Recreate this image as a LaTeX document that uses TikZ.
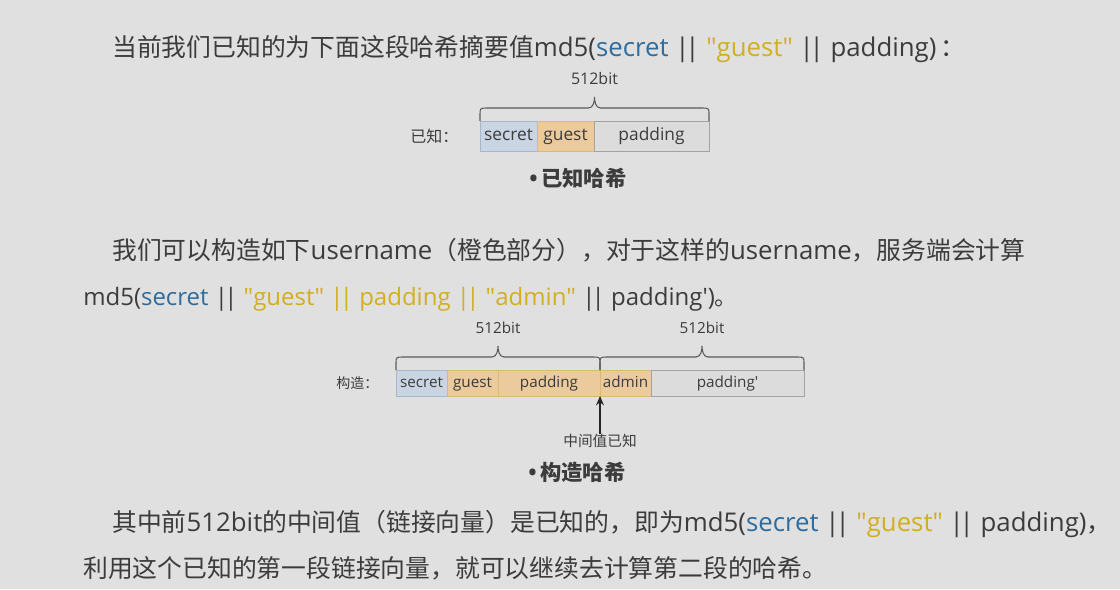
\documentclass[tikz,border=0pt]{standalone}
\usepackage{fontspec}
\setmainfont{Noto Sans CJK SC}
\newfontfamily\latin{Open Sans}[Scale=1.04]
\usepackage{tikz}
\usetikzlibrary{positioning,calc,arrows.meta}

\definecolor{bgGray}{HTML}{E0E0E1}
\definecolor{inkGray}{HTML}{3C3C3C}
\definecolor{keyBlue}{HTML}{2F6C9C}
\definecolor{keyGold}{HTML}{D2AF1E}
\definecolor{secretFill}{HTML}{C9D5E3}
\definecolor{secretLine}{HTML}{A7B7CB}
\definecolor{userFill}{HTML}{EBCB9E}
\definecolor{userLine}{HTML}{D8BA72}
\definecolor{padFill}{HTML}{DCDCDC}
\definecolor{padLine}{HTML}{A3A3A3}

\newcommand\lt[1]{{\latin #1}}
\newcommand\qd{\textquotedbl}
\newcommand\bars{|\kern-0.16em|}

\tikzset{
  bodytext/.style={anchor=base west, inner sep=0pt, text=inkGray, font=\fontsize{18.6}{22}\selectfont},
  seg/.style={draw, line width=0.75pt, inner sep=0pt, outer sep=0pt, anchor=north west, text=inkGray,
    text height=1.55ex, text depth=0.35ex},
  bracepen/.style={draw=inkGray!85, line width=0.8pt},
  arrowpen/.style={draw=black!85, line width=0.9pt, -{Stealth[length=7pt,width=6pt]}},
}

% brace over two box corners, with label above the tip
\newcommand\hashbrace[4]{%
  \coordinate (#3L) at (#1);
  \coordinate (#3R) at (#2);
  \coordinate (#3M) at ($(#1)!.5!(#2)$);
  \draw[bracepen] (#3L) -- ++(0,-7) .. controls +(0,-5) and +(-6,0) .. ($(#3L)+(6,-13)$)
    -- ($(#3M)+(-6,-13)$) .. controls +(5,0) and +(0,4) .. ($(#3M)+(0,-24)$)
    .. controls +(0,4) and +(-5,0) .. ($(#3M)+(6,-13)$)
    -- ($(#3R)+(-6,-13)$) .. controls +(6,0) and +(0,-5) .. ($(#3R)+(0,-7)$) -- (#3R);
  \node (#3) [inner sep=0pt, text=inkGray, font=#4] at ($(#3M)+(0,-42)$) {\lt{512bit}};
}

\begin{document}
\begin{tikzpicture}[x=0.75pt,y=0.75pt,yscale=-1,xscale=1]
  \useasboundingbox[fill=bgGray] (0,0) rectangle (1120,589);

  % first paragraph
  \node (introLine) [bodytext] at (112,56) {当前我们已知的为下面这段哈希摘要值\lt{md5(\textcolor{keyBlue}{secret} \bars{} \textcolor{keyGold}{\qd guest\qd} \bars{} padding)}\,：};

  % known hash
  \node (kSecret) [seg, fill=secretFill, draw=secretLine, minimum width=57*0.75pt, minimum height=30*0.75pt, font=\fontsize{12.5}{14}\selectfont\latin] at (480,121) {secret};
  \node (kGuest) [seg, fill=userFill, draw=userLine, minimum width=57*0.75pt, minimum height=30*0.75pt, font=\fontsize{12.5}{14}\selectfont\latin, right=0pt of kSecret] {guest};
  \node (kPad) [seg, fill=padFill, draw=padLine, minimum width=115*0.75pt, minimum height=30*0.75pt, font=\fontsize{12.5}{14}\selectfont\latin, right=0pt of kGuest] {padding};
  \hashbrace{kSecret.north west}{kPad.north east}{kBits}{\fontsize{11.5}{13}\selectfont}
  \node (kTag) [text=inkGray, font=\fontsize{12}{14}\selectfont, left=16pt of kSecret, inner sep=0pt] {已知：};
  \node (kTitle) [text=inkGray, font=\fontsize{16}{18}\selectfont\bfseries, inner sep=0pt] at (578,178) {\lt{•}\,已知哈希};

  % second paragraph
  \node (craftLine) [bodytext] at (112,259) {我们可以构造如下\lt{username}（橙色部分），对于这样的\lt{username}，服务端会计算};
  \node (craftMd) [bodytext, font=\fontsize{17.3}{22}\selectfont] at (83,305) {\lt{\spaceskip=0.26em md5(\textcolor{keyBlue}{secret} \bars{} \textcolor{keyGold}{\qd guest\qd{} \bars{} padding \bars{} \qd admin\qd} \bars{} padding\textquotesingle)}。};

  % crafted hash
  \node (cSecret) [seg, fill=secretFill, draw=secretLine, minimum width=51*0.75pt, minimum height=26*0.75pt, font=\fontsize{11}{12}\selectfont\latin] at (396,370) {secret};
  \node (cGuest) [seg, fill=userFill, draw=userLine, minimum width=51*0.75pt, minimum height=26*0.75pt, font=\fontsize{11}{12}\selectfont\latin, right=0pt of cSecret] {guest};
  \node (cPad) [seg, fill=userFill, draw=userLine, minimum width=102*0.75pt, minimum height=26*0.75pt, font=\fontsize{11}{12}\selectfont\latin, right=0pt of cGuest] {padding};
  \node (cAdmin) [seg, fill=userFill, draw=userLine, minimum width=51*0.75pt, minimum height=26*0.75pt, font=\fontsize{11}{12}\selectfont\latin, right=0pt of cPad] {admin};
  \node (cPad2) [seg, fill=padFill, draw=padLine, minimum width=153*0.75pt, minimum height=26*0.75pt, font=\fontsize{11}{12}\selectfont\latin, right=0pt of cAdmin] {padding\textquotesingle};
  \hashbrace{cSecret.north west}{cPad.north east}{cBitsA}{\fontsize{11}{12}\selectfont}
  \hashbrace{cAdmin.north west}{cPad2.north east}{cBitsB}{\fontsize{11}{12}\selectfont}
  \node (cTag) [text=inkGray, font=\fontsize{10.5}{12}\selectfont, left=13pt of cSecret, inner sep=0pt] {构造：};
  \node (midKnown) [text=inkGray, font=\fontsize{11}{13}\selectfont, inner sep=0pt] at (600,441) {中间值已知};
  \draw[arrowpen] (midKnown.north) -- (cPad.south east);
  \node (cTitle) [text=inkGray, font=\fontsize{16}{18}\selectfont\bfseries, inner sep=0pt] at (577,472) {\lt{•}\,构造哈希};

  % closing paragraph
  \node (chainLine) [bodytext] at (112,531) {其中前\lt{512bit}的中间值（链接向量）是已知的，即为\lt{md5(\textcolor{keyBlue}{secret} \bars{} \textcolor{keyGold}{\qd guest\qd} \bars{} padding)}，};
  \node (chainNext) [bodytext] at (83,577) {利用这个已知的第一段链接向量，就可以继续去计算第二段的哈希。};
\end{tikzpicture}
\end{document}
